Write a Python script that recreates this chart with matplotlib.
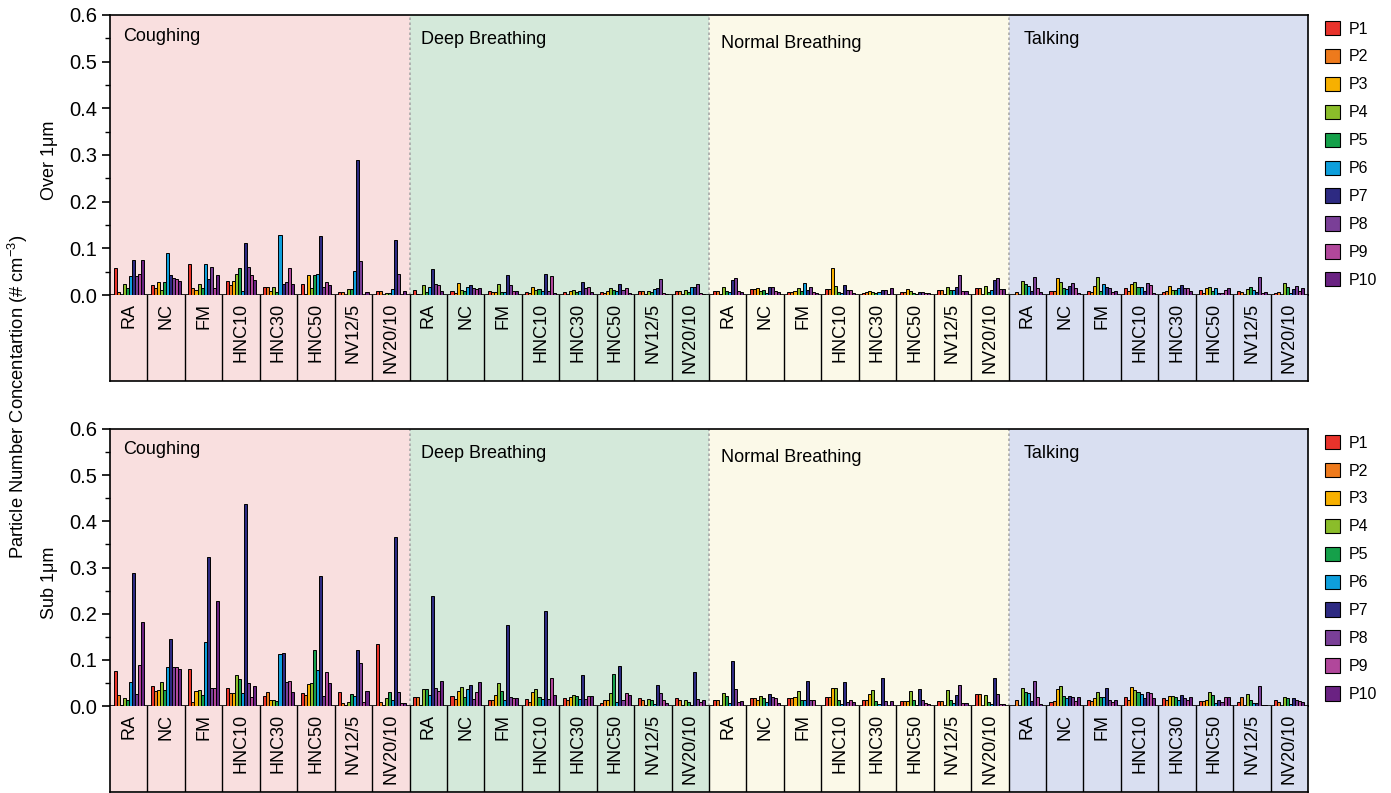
import matplotlib
matplotlib.use('Agg')
import matplotlib.pyplot as plt
from matplotlib.ticker import MultipleLocator, FormatStrFormatter
from matplotlib.patches import Patch

plt.rcParams['font.family'] = ['Liberation Sans', 'DejaVu Sans']
plt.rcParams['mathtext.fontset'] = 'custom'
plt.rcParams['mathtext.rm'] = 'Liberation Sans'
plt.rcParams['mathtext.default'] = 'regular'

activities = ['Coughing', 'Deep Breathing', 'Normal Breathing', 'Talking']
masks = ['RA', 'NC', 'FM', 'HNC10', 'HNC30', 'HNC50', 'NV12/5', 'NV20/10']
participants = ['P%d' % (i + 1) for i in range(10)]

# particles over 1 um, one row of P1..P10 per mask
over_cough = [
    [0.057, 0.006, 0.001, 0.024, 0.015, 0.040, 0.075, 0.040, 0.045, 0.075],
    [0.022, 0.015, 0.027, 0.011, 0.027, 0.090, 0.042, 0.037, 0.034, 0.031],
    [0.066, 0.015, 0.011, 0.023, 0.015, 0.066, 0.034, 0.060, 0.015, 0.042],
    [0.030, 0.021, 0.030, 0.045, 0.057, 0.009, 0.111, 0.060, 0.042, 0.033],
    [0.018, 0.018, 0.008, 0.018, 0.006, 0.129, 0.024, 0.027, 0.057, 0.024],
    [0.024, 0.002, 0.042, 0.015, 0.042, 0.045, 0.126, 0.018, 0.027, 0.021],
    [0.006, 0.006, 0.001, 0.012, 0.012, 0.051, 0.289, 0.072, 0.001, 0.006],
    [0.009, 0.009, 0.001, 0.005, 0.005, 0.012, 0.118, 0.045, 0.001, 0.009],
]
over_deep = [
    [0.011, 0.002, 0.001, 0.022, 0.006, 0.017, 0.055, 0.023, 0.022, 0.009],
    [0.008, 0.004, 0.025, 0.010, 0.009, 0.017, 0.022, 0.014, 0.013, 0.016],
    [0.008, 0.006, 0.006, 0.023, 0.006, 0.006, 0.043, 0.022, 0.008, 0.008],
    [0.006, 0.004, 0.017, 0.011, 0.012, 0.009, 0.046, 0.009, 0.041, 0.004],
    [0.006, 0.001, 0.009, 0.010, 0.006, 0.008, 0.027, 0.014, 0.017, 0.006],
    [0.006, 0.004, 0.009, 0.016, 0.011, 0.008, 0.024, 0.011, 0.014, 0.004],
    [0.008, 0.008, 0.002, 0.008, 0.006, 0.013, 0.015, 0.034, 0.004, 0.002],
    [0.008, 0.008, 0.002, 0.010, 0.006, 0.018, 0.018, 0.024, 0.004, 0.002],
]
over_normal = [
    [0.008, 0.008, 0.002, 0.017, 0.008, 0.006, 0.032, 0.036, 0.008, 0.006],
    [0.012, 0.012, 0.015, 0.008, 0.011, 0.004, 0.017, 0.017, 0.008, 0.006],
    [0.006, 0.006, 0.008, 0.015, 0.008, 0.025, 0.011, 0.018, 0.006, 0.004],
    [0.013, 0.013, 0.057, 0.019, 0.006, 0.004, 0.021, 0.010, 0.010, 0.005],
    [0.005, 0.006, 0.009, 0.007, 0.004, 0.006, 0.011, 0.011, 0.002, 0.014],
    [0.006, 0.006, 0.013, 0.009, 0.004, 0.003, 0.007, 0.007, 0.004, 0.004],
    [0.011, 0.011, 0.002, 0.017, 0.011, 0.011, 0.017, 0.042, 0.008, 0.008],
    [0.014, 0.014, 0.002, 0.019, 0.006, 0.010, 0.032, 0.037, 0.012, 0.012],
]
over_talk = [
    [0.001, 0.006, 0.001, 0.029, 0.024, 0.019, 0.008, 0.038, 0.014, 0.006],
    [0.008, 0.008, 0.036, 0.027, 0.014, 0.012, 0.019, 0.025, 0.014, 0.004],
    [0.009, 0.006, 0.019, 0.038, 0.008, 0.023, 0.017, 0.016, 0.006, 0.009],
    [0.014, 0.008, 0.023, 0.027, 0.017, 0.017, 0.008, 0.025, 0.022, 0.004],
    [0.006, 0.008, 0.019, 0.010, 0.010, 0.014, 0.022, 0.016, 0.014, 0.008],
    [0.010, 0.004, 0.014, 0.017, 0.008, 0.014, 0.004, 0.004, 0.010, 0.015],
    [0.008, 0.006, 0.001, 0.012, 0.017, 0.011, 0.006, 0.038, 0.004, 0.006],
    [0.004, 0.006, 0.001, 0.025, 0.017, 0.004, 0.013, 0.019, 0.008, 0.014],
]

# particles under 1 um
sub_cough = [
    [0.075, 0.023, 0.002, 0.017, 0.012, 0.051, 0.288, 0.027, 0.088, 0.182],
    [0.043, 0.033, 0.035, 0.051, 0.035, 0.084, 0.145, 0.084, 0.084, 0.081],
    [0.081, 0.009, 0.032, 0.034, 0.023, 0.138, 0.323, 0.040, 0.040, 0.228],
    [0.040, 0.029, 0.029, 0.068, 0.058, 0.029, 0.438, 0.049, 0.020, 0.043],
    [0.022, 0.030, 0.014, 0.014, 0.011, 0.112, 0.114, 0.053, 0.055, 0.031],
    [0.028, 0.023, 0.047, 0.050, 0.121, 0.079, 0.281, 0.022, 0.074, 0.050],
    [0.030, 0.006, 0.002, 0.008, 0.025, 0.022, 0.122, 0.093, 0.008, 0.032],
    [0.134, 0.008, 0.002, 0.017, 0.030, 0.012, 0.365, 0.030, 0.006, 0.006],
]
sub_deep = [
    [0.019, 0.020, 0.002, 0.037, 0.037, 0.024, 0.239, 0.040, 0.033, 0.055],
    [0.022, 0.016, 0.033, 0.042, 0.019, 0.037, 0.046, 0.016, 0.031, 0.051],
    [0.014, 0.012, 0.024, 0.049, 0.033, 0.012, 0.176, 0.020, 0.018, 0.018],
    [0.016, 0.009, 0.031, 0.037, 0.020, 0.016, 0.206, 0.016, 0.061, 0.024],
    [0.018, 0.014, 0.020, 0.024, 0.022, 0.016, 0.068, 0.016, 0.022, 0.021],
    [0.007, 0.014, 0.014, 0.029, 0.070, 0.009, 0.087, 0.012, 0.029, 0.024],
    [0.018, 0.014, 0.002, 0.016, 0.012, 0.005, 0.046, 0.029, 0.014, 0.007],
    [0.018, 0.012, 0.002, 0.014, 0.009, 0.003, 0.074, 0.016, 0.009, 0.012],
]
sub_normal = [
    [0.012, 0.012, 0.001, 0.028, 0.022, 0.006, 0.097, 0.036, 0.008, 0.010],
    [0.017, 0.017, 0.014, 0.021, 0.017, 0.008, 0.026, 0.019, 0.017, 0.006],
    [0.017, 0.017, 0.019, 0.032, 0.014, 0.014, 0.055, 0.014, 0.012, 0.001],
    [0.019, 0.019, 0.040, 0.040, 0.014, 0.004, 0.052, 0.008, 0.013, 0.009],
    [0.013, 0.013, 0.026, 0.035, 0.010, 0.004, 0.060, 0.010, 0.001, 0.010],
    [0.010, 0.010, 0.010, 0.032, 0.014, 0.003, 0.037, 0.012, 0.006, 0.004],
    [0.010, 0.010, 0.001, 0.034, 0.013, 0.006, 0.024, 0.045, 0.006, 0.006],
    [0.027, 0.027, 0.001, 0.023, 0.009, 0.004, 0.060, 0.026, 0.004, 0.004],
]
sub_talk = [
    [0.001, 0.012, 0.001, 0.038, 0.030, 0.028, 0.010, 0.055, 0.020, 0.004],
    [0.008, 0.010, 0.036, 0.043, 0.021, 0.017, 0.021, 0.019, 0.010, 0.020],
    [0.014, 0.010, 0.017, 0.030, 0.019, 0.019, 0.038, 0.014, 0.008, 0.014],
    [0.019, 0.012, 0.041, 0.034, 0.030, 0.025, 0.017, 0.030, 0.028, 0.017],
    [0.017, 0.012, 0.021, 0.021, 0.019, 0.012, 0.023, 0.017, 0.014, 0.019],
    [0.010, 0.010, 0.014, 0.030, 0.023, 0.006, 0.012, 0.008, 0.019, 0.019],
    [0.009, 0.019, 0.002, 0.027, 0.014, 0.006, 0.006, 0.043, 0.003, 0.002],
    [0.014, 0.008, 0.001, 0.019, 0.017, 0.004, 0.017, 0.014, 0.010, 0.008],
]

bar_colors = ['#e8332b', '#ee7a1c', '#f7b000', '#8bbd2a', '#15a04a',
              '#0e9fdc', '#2d2a82', '#7a3f97', '#b1479b', '#6a2282']
bg_colors = ['#f9dfdf', '#d4e9da', '#fbf9e8', '#d9dff1']
# where the activity names sit: x offset from the section start, y in data units
name_dx = [0.35, 0.31, 0.32, 0.41]
name_dy = [0.555, 0.548, 0.539, 0.548]

W, H = 1391, 793
fig = plt.figure(figsize=(W / 100, H / 100), dpi=100)


def px_box(x0, y0, x1, y1):
    return [x0 / W, 1 - y1 / H, (x1 - x0) / W, (y1 - y0) / H]


def draw_panel(ax_box, tab_box, panel_data, panel_label, label_y):
    ax = fig.add_axes(px_box(*ax_box))
    tab = fig.add_axes(px_box(*tab_box))
    n = len(activities) * len(masks)

    for k in range(len(activities)):
        lo, hi = 8 * k - 0.5, 8 * k + 7.5
        ax.axvspan(lo, hi, color=bg_colors[k], lw=0, zorder=0)
        tab.axvspan(lo, hi, color=bg_colors[k], lw=0, zorder=0)
        if k > 0:
            ax.axvline(lo, color='#a8a8a8', lw=1.2, ls=(0, (1.5, 1.5)), zorder=1)
        ax.text(lo + name_dx[k], name_dy[k], activities[k], fontsize=13,
                ha='left', va='center', zorder=5)

    bw = 0.081
    for k, act in enumerate(panel_data):
        for m, vals in enumerate(act):
            g = 8 * k + m
            for j, v in enumerate(vals):
                x = g - 5 * bw + (j + 0.5) * bw
                ax.bar(x, v, width=bw, color=bar_colors[j], edgecolor='black',
                       linewidth=0.7, zorder=3)

    ax.set_xlim(-0.5, n - 0.5)
    ax.set_ylim(0, 0.6)
    ax.set_xticks([])
    ax.yaxis.set_major_locator(MultipleLocator(0.1))
    ax.yaxis.set_minor_locator(MultipleLocator(0.05))
    ax.yaxis.set_major_formatter(FormatStrFormatter('%.1f'))
    ax.tick_params(axis='y', which='major', length=6, width=1.2, labelsize=14.5, pad=3)
    ax.tick_params(axis='y', which='minor', length=3.5, width=1.0)
    for s in ax.spines.values():
        s.set_linewidth(1.2)
    ax.set_ylabel(panel_label, fontsize=13)
    ax.yaxis.set_label_coords(-0.0435, label_y)

    handles = [Patch(facecolor=c, edgecolor='black', linewidth=0.8) for c in bar_colors]
    ax.legend(handles, participants, loc='upper left', bbox_to_anchor=(1.005, 1.017),
              frameon=False, fontsize=11.5, handlelength=0.95, handleheight=1.0,
              handletextpad=0.56, labelspacing=0.77, borderaxespad=0.27)

    # mask names in boxed cells under the bars
    tab.set_xlim(-0.5, n - 0.5)
    tab.set_ylim(0, 1)
    tab.set_xticks([])
    tab.set_yticks([])
    for s in tab.spines.values():
        s.set_linewidth(1.2)
    tab.spines['top'].set_visible(False)
    for g in range(1, n):
        tab.axvline(g - 0.5, color='black', lw=1.0)
    for g in range(n):
        tab.text(g, 0.91, masks[g % 8], rotation=90, ha='center', va='top', fontsize=13)
    return ax


draw_panel((110, 15, 1308, 295), (110, 295, 1308, 381),
           [over_cough, over_deep, over_normal, over_talk], 'Over 1μm', 0.482)
draw_panel((110, 429, 1308, 706), (110, 706, 1308, 792),
           [sub_cough, sub_deep, sub_normal, sub_talk], 'Sub 1μm', 0.445)

fig.text(0.013, 0.5, 'Particle Number Concentartion (# cm$^{-3}$)', rotation=90,
         ha='center', va='center', fontsize=13.2)

fig.savefig('out.png', dpi=100)
